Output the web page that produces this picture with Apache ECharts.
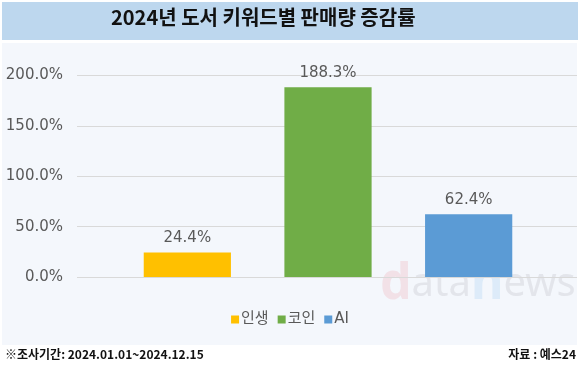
<!DOCTYPE html>
<html>
<head>
<meta charset="utf-8">
<script src="https://cdn.jsdelivr.net/npm/echarts@6/dist/echarts.min.js"></script>
<style>
  html,body{margin:0;padding:0;background:#fff;}
  #chart{width:580px;height:371px;}
</style>
</head>
<body>
<div id="chart"></div>
<script>
  // 키워드별 판매량 증감률 (%)
  const categories = ['인생', '코인', 'AI'];
  const rates = [24.4, 188.3, 62.4];
  const colors = ['#FFC000', '#70AD47', '#5B9BD5'];
  const yTicks = [0, 50, 100, 150, 200];

  const font = '"Noto Sans CJK KR", "Noto Sans", sans-serif';
  const numFont = '"DejaVu Sans", "Noto Sans CJK KR", sans-serif';
  const chart = echarts.init(document.getElementById('chart'));

  // 범례용 빈 시리즈 + 실제 막대 시리즈
  const series = categories.map((name, i) => ({
    name: name,
    type: 'bar',
    xAxisIndex: 1,
    yAxisIndex: 1,
    stack: 'all',
    barWidth: '62%',
    itemStyle: { color: colors[i] },
    label: {
      show: true,
      position: 'top',
      distance: 7,
      color: '#595959',
      fontSize: 15,
      fontFamily: numFont,
      formatter: p => p.value.toFixed(1) + '%'
    },
    data: categories.map((c, j) => (j === i ? rates[i] : null))
  }));

  const option = {
    backgroundColor: '#fff',
    animation: false,
    graphic: [
      { type: 'rect', shape: { x: 2, y: 2, width: 576, height: 38 }, style: { fill: '#BDD7EE' }, z: -10 },
      { type: 'rect', shape: { x: 2, y: 43, width: 575, height: 302 }, style: { fill: '#F4F7FC' }, z: -10 },
      { type: 'text', left: 111, top: 7, style: { text: '2024년 도서 키워드별 판매량 증감률', font: 'bold 20px ' + font, fill: '#111' } },
      { type: 'text', left: 5, top: 348, style: { text: '※조사기간: 2024.01.01~2024.12.15', font: 'bold 12px ' + font, fill: '#111' } },
      { type: 'text', right: 4, top: 348, style: { text: '자료 : 예스24', font: 'bold 12px ' + font, fill: '#111' } },
      {
        type: 'text', left: 380, top: 260, z: -5,
        style: {
          text: '{d|d}{g|ata}{n|n}{g|ews}',
          rich: {
            d: { font: 'bold 50px "Noto Sans", sans-serif', fill: 'rgba(235,150,160,0.22)' },
            n: { font: 'bold 50px "Noto Sans", sans-serif', fill: 'rgba(150,200,240,0.25)' },
            g: { font: '40px "Noto Sans", sans-serif', fill: 'rgba(190,190,195,0.3)' }
          }
        }
      }
    ],
    legend: {
      data: categories,
      bottom: 39,
      left: 'center',
      itemWidth: 8,
      itemHeight: 8,
      itemGap: 9,
      icon: 'rect',
      textStyle: { color: '#595959', fontSize: 15, fontFamily: numFont, padding: [0, 0, 0, -3] }
    },
    grid: [
      { left: 77, right: 3, top: 75.5, bottom: 94 },
      { left: 117, right: 41, top: 75.5, bottom: 94 }
    ],
    xAxis: [
      { type: 'category', gridIndex: 0, data: [''], show: false },
      { type: 'category', gridIndex: 1, data: categories, show: false }
    ],
    yAxis: [
      {
        type: 'value', gridIndex: 0,
        min: yTicks[0], max: yTicks[yTicks.length - 1], interval: 50,
        axisLine: { show: false }, axisTick: { show: false },
        axisLabel: { color: '#595959', fontSize: 15, fontFamily: numFont, margin: 14, formatter: v => v.toFixed(1) + '%' },
        splitLine: { lineStyle: { color: '#D9D9D9', width: 1 } }
      },
      {
        type: 'value', gridIndex: 1,
        min: yTicks[0], max: yTicks[yTicks.length - 1], interval: 50,
        show: false, splitLine: { show: false }
      }
    ],
    series: series
  };

  chart.setOption(option);
</script>
</body>
</html>
